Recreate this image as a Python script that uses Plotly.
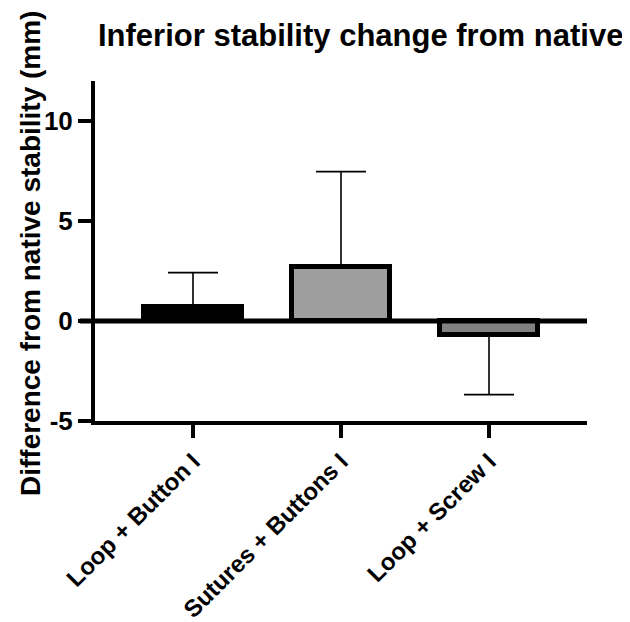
import plotly.graph_objects as go

categories = ["Loop + Button I", "Sutures + Buttons I", "Loop + Screw I"]
means = [0.7, 2.7, -0.7]
err_up = [1.72, 4.77, 0.0]
err_down = [0.0, 0.0, 2.98]
colors = ["#000000", "#9d9e9d", "#808080"]
y_ticks = [-5, 0, 5, 10]

FONT = "Liberation Sans, Arial, sans-serif"

fig = go.Figure()
fig.add_trace(go.Bar(
    x=[0, 1, 2], y=means, width=0.66,
    marker=dict(color=colors, line=dict(color="black", width=5)),
    error_y=dict(type="data", symmetric=False, array=err_up, arrayminus=err_down,
                 color="black", thickness=1.6, width=25),
    showlegend=False,
))

fig.add_shape(type="line", xref="paper", yref="y", x0=-0.031, x1=1, y0=0, y1=0,
              line=dict(color="black", width=5), layer="above")

fig.update_layout(
    width=622, height=614,
    margin=dict(l=87, r=43, t=73, b=201),
    plot_bgcolor="white", paper_bgcolor="white",
    font=dict(family=FONT, color="black"),
    bargap=0,
    xaxis=dict(range=[-0.662, 2.662], tickmode="array", tickvals=[0, 1, 2],
               ticktext=[f"<b>{c}</b>" for c in categories], tickangle=-45,
               tickfont=dict(size=24, family=FONT, color="black"),
               showline=True, linecolor="black", linewidth=4,
               ticks="outside", ticklen=13, tickwidth=4, tickcolor="black",
               showgrid=False, zeroline=False, automargin=False),
    yaxis=dict(range=[-5, 12], tickmode="array", tickvals=y_ticks,
               ticktext=[f"<b>{v}</b>" for v in y_ticks],
               tickfont=dict(size=26, family=FONT, color="black"),
               showline=True, linecolor="black", linewidth=4,
               ticks="outside", ticklen=13, tickwidth=4, tickcolor="black",
               showgrid=False, zeroline=False, automargin=False),
    annotations=[
        dict(text="<b>Inferior stability change from native</b>", xref="paper", yref="paper",
             x=(352 - 87) / 492, y=1.0, yshift=46, xanchor="center", yanchor="middle", showarrow=False,
             font=dict(size=31, family=FONT, color="black")),
        dict(text="<b>Difference from native stability (mm)</b>", xref="paper", yref="paper",
             x=0, xshift=-65, y=0.5, yshift=-3, textangle=-90, xanchor="center", yanchor="middle",
             showarrow=False, font=dict(size=28, family=FONT, color="black")),
    ],
)

fig.write_html("out.html")
